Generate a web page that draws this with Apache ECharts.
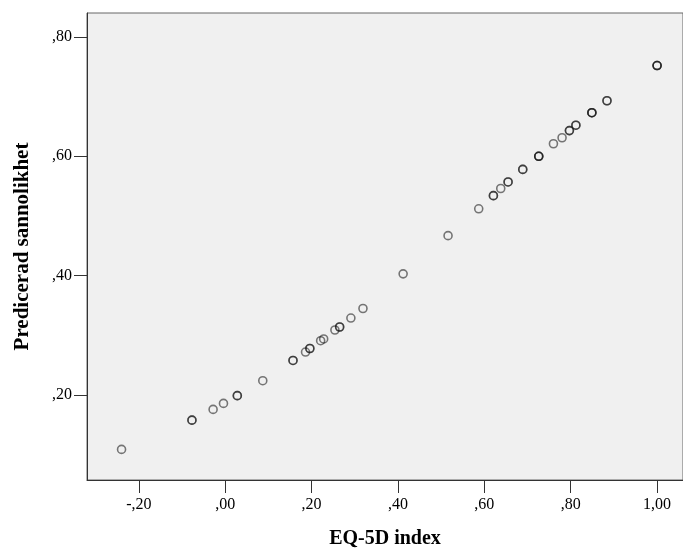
<!DOCTYPE html>
<html>
<head>
<meta charset="utf-8">
<script src="https://cdn.jsdelivr.net/npm/echarts@6/dist/echarts.min.js"></script>
<style>html,body{margin:0;padding:0;background:#fff}#c{width:683px;height:554px}</style>
</head>
<body>
<div id="c"></div>
<script>
// EQ-5D index values (x) and predicted probability (y); repeated pairs are overlapping observations
const eq5d = [-0.240, -0.077, -0.077, -0.028, -0.004, 0.028, 0.028, 0.087, 0.157, 0.157, 0.186, 0.196, 0.196,
  0.221, 0.228, 0.254, 0.265, 0.265, 0.291, 0.319, 0.412, 0.516, 0.587, 0.621, 0.621, 0.638, 0.655, 0.655,
  0.689, 0.689, 0.726, 0.726, 0.726, 0.760, 0.780, 0.797, 0.797, 0.812, 0.812, 0.849, 0.849, 0.849, 0.884, 0.884,
  1.000, 1.000, 1.000];
const predProb = [0.109, 0.158, 0.158, 0.176, 0.186, 0.199, 0.199, 0.224, 0.258, 0.258, 0.272, 0.278, 0.278,
  0.291, 0.294, 0.309, 0.314, 0.314, 0.329, 0.345, 0.403, 0.467, 0.512, 0.534, 0.534, 0.546, 0.557, 0.557,
  0.578, 0.578, 0.600, 0.600, 0.600, 0.621, 0.631, 0.643, 0.643, 0.652, 0.652, 0.673, 0.673, 0.673, 0.693, 0.693,
  0.752, 0.752, 0.752];
const xTickValues = [-0.2, 0, 0.2, 0.4, 0.6, 0.8, 1.0];
const xTickLabels = ['-,20', ',00', ',20', ',40', ',60', ',80', '1,00'];
const yTickValues = [0.2, 0.4, 0.6, 0.8];
const yTickLabels = [',20', ',40', ',60', ',80'];

const points = eq5d.map((x, i) => [x, predProb[i]]);
function lab(values, labels) {
  return v => { const i = values.findIndex(t => Math.abs(t - v) < 1e-9); return i >= 0 ? labels[i] : ''; };
}
const font = '"Liberation Serif", "Times New Roman", serif';
const chart = echarts.init(document.getElementById('c'), null, {renderer: 'canvas'});
chart.setOption({
  animation: false,
  grid: {left: 87, right: 0, top: 13, bottom: 71, show: true, backgroundColor: '#f0f0f0', borderColor: '#666', borderWidth: 1},
  xAxis: {
    type: 'value', min: -0.32, max: 1.06,
    name: 'EQ-5D index', nameLocation: 'middle', nameGap: 49,
    nameTextStyle: {fontFamily: font, fontWeight: 'bold', fontSize: 20, color: '#000'},
    axisLine: {show: true, onZero: false, lineStyle: {color: '#333', width: 1}},
    axisTick: {show: true, length: 13, lineStyle: {color: '#333'}, customValues: xTickValues},
    axisLabel: {fontFamily: font, fontSize: 16, color: '#000', margin: 17, customValues: xTickValues, formatter: lab(xTickValues, xTickLabels)},
    splitLine: {show: false}
  },
  yAxis: {
    type: 'value', min: 0.0577, max: 0.84,
    name: 'Predicerad sannolikhet', nameLocation: 'middle', nameGap: 54,
    nameTextStyle: {fontFamily: font, fontWeight: 'bold', fontSize: 21, color: '#000'},
    axisLine: {show: true, onZero: false, lineStyle: {color: '#333', width: 1}},
    axisTick: {show: true, length: 13, lineStyle: {color: '#333'}, customValues: yTickValues},
    axisLabel: {fontFamily: font, fontSize: 16, color: '#000', margin: 15, customValues: yTickValues, formatter: lab(yTickValues, yTickLabels)},
    splitLine: {show: false}
  },
  series: [{
    type: 'scatter', data: points, symbol: 'circle', symbolSize: 8,
    itemStyle: {color: 'rgba(0,0,0,0)', borderColor: 'rgba(20,20,20,0.7)', borderWidth: 1.6}
  }]
});
</script>
</body>
</html>
